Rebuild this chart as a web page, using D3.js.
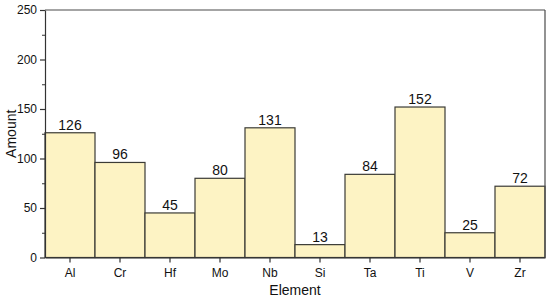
<!DOCTYPE html>
<html>
<head>
<meta charset="utf-8">
<script src="https://cdn.jsdelivr.net/npm/d3@7"></script>
<style>
  body { margin: 0; background: #fff; }
  text { font-family: "Liberation Sans", Arial, sans-serif; fill: #111; }
</style>
</head>
<body>
<svg id="chart" width="550" height="299"></svg>
<script>
const elements = ["Al", "Cr", "Hf", "Mo", "Nb", "Si", "Ta", "Ti", "V", "Zr"];
const amounts = [126, 96, 45, 80, 131, 13, 84, 152, 25, 72];
const yTicks = [0, 50, 100, 150, 200, 250];
const yMinorTicks = [25, 75, 125, 175, 225];

const margin = {top: 10, right: 5, bottom: 41.5, left: 45},
    width = 550 - margin.left - margin.right,
    height = 299 - margin.top - margin.bottom;

const svg = d3.select("#chart");
const g = svg.append("g").attr("transform", `translate(${margin.left},${margin.top})`);

const x = d3.scaleBand().domain(elements).range([0, width]).padding(0);
const y = d3.scaleLinear().domain([0, 250]).range([height, 0]);

// bars
g.selectAll("rect.bar")
    .data(elements)
    .join("rect")
    .attr("class", "bar")
    .attr("x", d => x(d))
    .attr("y", (d, i) => y(amounts[i]))
    .attr("width", x.bandwidth())
    .attr("height", (d, i) => height - y(amounts[i]))
    .attr("fill", "#fdf3c4")
    .attr("stroke", "#3b3b36")
    .attr("stroke-width", 1.2);

// value labels
g.selectAll("text.val")
    .data(elements)
    .join("text")
    .attr("class", "val")
    .attr("x", d => x(d) + x.bandwidth() / 2)
    .attr("y", (d, i) => y(amounts[i]) - 3)
    .attr("text-anchor", "middle")
    .attr("font-size", 14)
    .text((d, i) => amounts[i]);

// frame top/right
g.append("line").attr("x1", 0).attr("x2", width).attr("y1", 0).attr("y2", 0)
    .attr("stroke", "#4a4a4a").attr("stroke-width", 1.2);
g.append("line").attr("x1", width).attr("x2", width).attr("y1", 0).attr("y2", height)
    .attr("stroke", "#4a4a4a").attr("stroke-width", 1.2);

// minor y ticks
g.append("g")
    .call(d3.axisLeft(y).tickValues(yMinorTicks).tickSize(3).tickFormat(""))
    .call(a => a.select(".domain").remove())
    .call(a => a.selectAll("line").attr("stroke", "#333"));

// y axis
g.append("g")
    .call(d3.axisLeft(y).tickValues(yTicks).tickSize(5).tickPadding(3).tickSizeOuter(0))
    .call(a => a.select(".domain").attr("stroke", "#333").attr("stroke-width", 1.2))
    .call(a => a.selectAll("line").attr("stroke", "#333").attr("stroke-width", 1.2))
    .call(a => a.selectAll("text").attr("font-size", 12).attr("fill", "#111")
        .style("font-family", '"Liberation Sans", Arial, sans-serif'));

// x axis
g.append("g")
    .attr("transform", `translate(0,${height})`)
    .call(d3.axisBottom(x).tickSize(5).tickPadding(5.5).tickSizeOuter(0))
    .call(a => a.select(".domain").attr("stroke", "#333").attr("stroke-width", 1.2))
    .call(a => a.selectAll("line").attr("stroke", "#333").attr("stroke-width", 1.2))
    .call(a => a.selectAll("text").attr("font-size", 12).attr("fill", "#111")
        .style("font-family", '"Liberation Sans", Arial, sans-serif'));

// axis titles
svg.append("text")
    .attr("x", margin.left + width / 2)
    .attr("y", 295)
    .attr("text-anchor", "middle")
    .attr("font-size", 14)
    .text("Element");

svg.append("text")
    .attr("transform", `translate(16,${margin.top + height / 2}) rotate(-90)`)
    .attr("text-anchor", "middle")
    .attr("font-size", 14)
    .text("Amount");
</script>
</body>
</html>
